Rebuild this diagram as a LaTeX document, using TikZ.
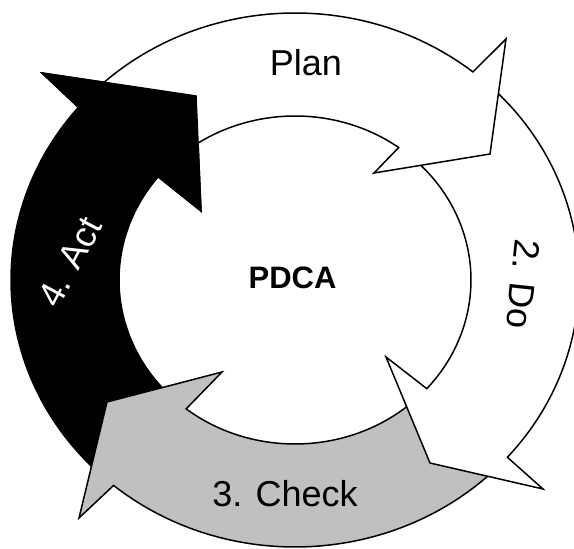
\documentclass[tikz,border=0pt]{standalone}
\usepackage{fontspec}
\setmainfont{Liberation Sans}
\definecolor{checkgray}{HTML}{C0C0C0}
\tikzset{
  ringarrow/.style={draw=black, line width=1.5pt, line join=miter, miter limit=20},
  planarrow/.style={ringarrow, fill=white},
  doarrow/.style={ringarrow, fill=white},
  checkarrow/.style={ringarrow, fill=checkgray},
  actarrow/.style={ringarrow, fill=black},
  steplabel/.style={inner sep=0pt, font=\fontsize{36}{36}\selectfont},
  centrelabel/.style={inner sep=0pt, font=\bfseries\fontsize{31}{31}\selectfont}
}
\begin{document}
\begin{tikzpicture}[x=1pt,y=1pt]
\useasboundingbox (0,0) rectangle (574,549);
\clip (0,0) rectangle (574,549);
\fill[white] (0,0) rectangle (574,549);
% centre of the ring; outer ellipse 284 x 267, inner ellipse 176 x 164
\coordinate (c) at (295,269);

% 4. Act (drawn first, its head is laid over again at the end)
\path[actarrow] ([shift={(c)}]230.3:284 and 267)
  arc[start angle=230.3, end angle=139.7, x radius=284, y radius=267]
  -- (42,476) -- (196,453) -- (201,338)
  -- ([shift={(c)}]141.0:176 and 164)
  arc[start angle=141.0, end angle=231.8, x radius=176, y radius=164] -- cycle;

% 3. Check
\path[checkarrow] ([shift={(c)}]318.4:284 and 267)
  arc[start angle=318.4, end angle=230.3, x radius=284, y radius=267]
  -- (79,31) -- (107,147) -- (222,177)
  -- ([shift={(c)}]231.8:176 and 164)
  arc[start angle=231.8, end angle=318.5, x radius=176, y radius=164] -- cycle;

% 2. Do
\path[doarrow] ([shift={(c)}]51.2:284 and 267)
  arc[start angle=51.2, end angle=-41.6, x radius=284, y radius=267]
  -- (543,60) -- (430,86) -- (386,192)
  -- ([shift={(c)}]-41.5:176 and 164)
  arc[start angle=-41.5, end angle=53.9, x radius=176, y radius=164] -- cycle;

% Plan
\path[planarrow] ([shift={(c)}]139.7:284 and 267)
  arc[start angle=139.7, end angle=51.2, x radius=284, y radius=267]
  -- (506,510) -- (490,395) -- (374,376)
  -- ([shift={(c)}]53.9:176 and 164)
  arc[start angle=53.9, end angle=141.0, x radius=176, y radius=164] -- cycle;

% head of 4. Act, over the tail of Plan
\path[actarrow] ([shift={(c)}]139.7:284 and 267)
  -- (42,476) -- (196,453) -- (201,338)
  -- ([shift={(c)}]141.0:176 and 164) -- cycle;

% labels
\node[steplabel, anchor=base] (plan) at (306,473) {Plan};
\node[steplabel, rotate=-96] (do) at (523,265) {2. Do};
\node[steplabel, anchor=base] (check) at (285,42) {3. Check};
\node[steplabel, text=white, rotate=62] (act) at (70,287) {4. Act};
\node[centrelabel] (pdca) at (292.5,271.5) {PDCA};
\end{tikzpicture}
\end{document}
